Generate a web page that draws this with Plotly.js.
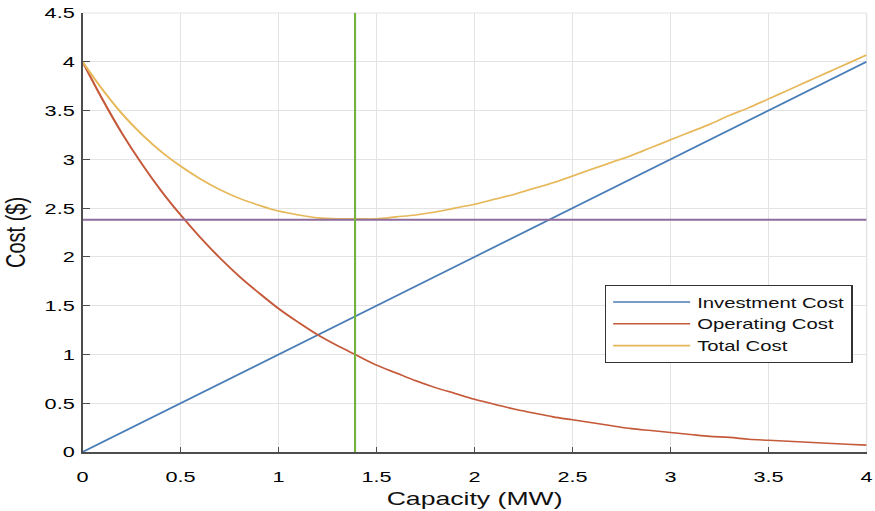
<!DOCTYPE html>
<html>
<head>
<meta charset="utf-8">
<script src="https://cdn.plot.ly/plotly-3.0.1.min.js"></script>
<style>
  html, body { margin: 0; padding: 0; background: #fff; overflow: hidden; }
  #wrap { width: 875px; height: 511px; overflow: hidden; }
  #chart { width: 625px; height: 511px; transform: scaleX(1.4); transform-origin: 0 0; }
</style>
</head>
<body>
<div id="wrap"><div id="chart"></div></div>
<script>
// Capacity (MW)
const capacity = [0,0.1,0.2,0.3,0.4,0.5,0.6,0.7,0.8,0.9,1.0,1.1,1.2,1.3,1.4,1.5,1.6,1.7,1.8,1.9,2.0,
                  2.1,2.2,2.3,2.4,2.5,2.6,2.7,2.8,2.9,3.0,3.1,3.2,3.3,3.4,3.5,3.6,3.7,3.8,3.9,4.0];
// Investment cost ($)
const investmentCost = [0,0.1,0.2,0.3,0.4,0.5,0.6,0.7,0.8,0.9,1.0,1.1,1.2,1.3,1.4,1.5,1.6,1.7,1.8,1.9,2.0,
                        2.1,2.2,2.3,2.4,2.5,2.6,2.7,2.8,2.9,3.0,3.1,3.2,3.3,3.4,3.5,3.6,3.7,3.8,3.9,4.0];
// Operating cost ($)
const operatingCost = [4.00,3.62,3.27,2.96,2.68,2.43,2.20,1.99,1.80,1.63,1.47,1.33,1.20,1.09,0.99,0.89,0.81,0.73,0.66,0.60,0.54,
                       0.49,0.44,0.40,0.36,0.33,0.30,0.27,0.24,0.22,0.20,0.18,0.16,0.15,0.13,0.12,0.11,0.10,0.09,0.08,0.07];
// Total cost ($)
const totalCost = [4.00,3.72,3.47,3.26,3.08,2.93,2.80,2.69,2.60,2.53,2.47,2.43,2.40,2.39,2.39,2.39,2.41,2.43,2.46,2.50,2.54,
                   2.59,2.64,2.70,2.76,2.83,2.90,2.97,3.04,3.12,3.20,3.28,3.36,3.45,3.53,3.62,3.71,3.80,3.89,3.98,4.07];
// Optimum markers
const optimalCapacity = 1.39;
const minimumCost = 2.38;
const xRange = [0, 4];
const yRange = [0, 4.5];
const xTicks = [0,0.5,1,1.5,2,2.5,3,3.5,4];
const yTicks = [0,0.5,1,1.5,2,2.5,3,3.5,4,4.5];
const seriesNames = ['Investment Cost', 'Operating Cost', 'Total Cost'];

const FONT = 'Liberation Sans, Arial, Helvetica, sans-serif';
const colors = { inv: '#4a7db6', op: '#c55a3b', tot: '#e6b85a', hline: '#8f6c9e', vline: '#74b23e' };

const traces = [
  { x: capacity, y: investmentCost, name: seriesNames[0], mode: 'lines', line: { color: colors.inv, width: 1.6 } },
  { x: capacity, y: operatingCost, name: seriesNames[1], mode: 'lines', line: { color: colors.op, width: 1.6, shape: 'spline' } },
  { x: capacity, y: totalCost, name: seriesNames[2], mode: 'lines', line: { color: colors.tot, width: 1.6, shape: 'spline' } },
  { x: xRange, y: [minimumCost, minimumCost], mode: 'lines', showlegend: false, line: { color: colors.hline, width: 2 } },
  { x: [optimalCapacity, optimalCapacity], y: yRange, mode: 'lines', showlegend: false, line: { color: colors.vline, width: 1.5 } }
];

const axisCommon = {
  showgrid: true, gridcolor: '#e3e3e3', gridwidth: 1,
  zeroline: false, showline: true, linecolor: '#4d4d4d', linewidth: 1.5,
  ticks: 'inside', ticklen: 5, tickwidth: 1, tickcolor: '#4d4d4d',
  tickfont: { family: FONT, size: 15.5, color: '#000000' },
  automargin: false, fixedrange: true
};

const layout = {
  width: 625, height: 511,
  margin: { l: 59.3, r: 6.4, t: 13, b: 59, pad: 0 },
  paper_bgcolor: '#ffffff', plot_bgcolor: '#ffffff',
  showlegend: true,
  xaxis: Object.assign({}, axisCommon, {
    range: xRange, tickmode: 'array', tickvals: xTicks, ticklabelstandoff: 10,
    title: { text: 'Capacity (MW)', font: { family: FONT, size: 19, color: '#111111' }, standoff: 7 }
  }),
  yaxis: Object.assign({}, axisCommon, {
    range: yRange, tickmode: 'array', tickvals: yTicks, ticklabelstandoff: 1,
    title: { text: 'Cost ($)', font: { family: FONT, size: 20, color: '#111111' }, standoff: 9 }
  }),
  legend: {
    x: 0.666, y: 0.3804, xanchor: 'left', yanchor: 'top',
    bgcolor: '#ffffff', bordercolor: '#333333', borderwidth: 1,
    font: { family: FONT, size: 14.5, color: '#111111' },
    itemwidth: 55, tracegroupgap: 0
  },
  shapes: [
    { type: 'line', xref: 'paper', yref: 'paper', x0: 0, x1: 1, y0: 1, y1: 1, line: { color: '#e3e3e3', width: 1 }, layer: 'below' },
    { type: 'line', xref: 'paper', yref: 'paper', x0: 1, x1: 1, y0: 0, y1: 1, line: { color: '#e3e3e3', width: 1 }, layer: 'below' }
  ]
};

Plotly.newPlot('chart', traces, layout, { staticPlot: true, displayModeBar: false });
</script>
</body>
</html>
